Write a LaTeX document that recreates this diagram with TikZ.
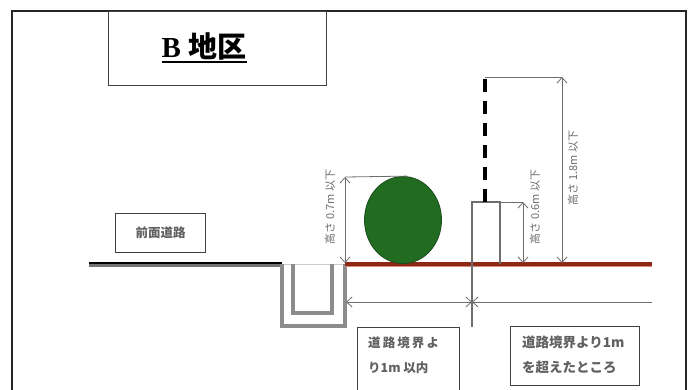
\documentclass[tikz,border=0pt]{standalone}
\usepackage{fontspec}
\setmainfont{Liberation Serif}
\newfontfamily\jp{Noto Sans CJK JP}
\usetikzlibrary{arrows.meta,shapes.geometric}
\definecolor{soil}{RGB}{142,40,22}
\definecolor{soilhalo}{RGB}{214,140,120}
\definecolor{hedge}{RGB}{34,108,34}
\definecolor{dimgray}{RGB}{110,110,110}
\definecolor{ditch}{RGB}{140,140,140}
\tikzset{
  frame/.style={draw=black!85, line width=1.4pt},
  labelbox/.style={draw=black!75, line width=1pt, fill=white},
  dimline/.style={draw=dimgray, line width=0.8pt},
  dimarrow/.style={dimline, {Straight Barb[length=5.5pt,width=10pt]}-{Straight Barb[length=5.5pt,width=10pt]}},
  startarrow/.style={dimline, {Straight Barb[length=5.5pt,width=10pt]}-},
  dimtext/.style={text=dimgray, font=\jp\fontsize{11}{11}\selectfont, inner sep=0pt, rotate=90},
  boxtext/.style={text=black!62, font=\jp\bfseries\fontsize{12.5}{25}\selectfont, align=left, inner sep=0pt},
  ditchwall/.style={draw=ditch, line width=3.2pt, line join=miter},
  postline/.style={draw=dimgray, line width=1.1pt},
}
\begin{document}
\begin{tikzpicture}[x=1pt,y=-1pt]
  \useasboundingbox (0,0) rectangle (692,389);
  \fill[white] (0,0) rectangle (692,389);

  % outer frame (runs past the lower edge)
  \draw[frame] (12,400) -- (12,11) -- (686,11) -- (686,400);

  % title box
  \node[labelbox, line width=1.4pt, minimum width=218pt, minimum height=74pt, anchor=north west] (titlebox) at (108,11) {};
  \node[inner sep=0pt, font=\bfseries\fontsize{29}{29}\selectfont] (ttl) at (204,46) {B {\jp\bfseries 地区}};
  \draw[line width=2.4pt] ([yshift=-5pt]ttl.base west) -- ([yshift=-5pt]ttl.base east);

  % front road
  \coordinate (roadL) at (89,264);
  \coordinate (roadR) at (282,264);
  \draw[draw=black!55, line width=4.5pt] ([yshift=-1pt]roadL) -- ([yshift=-1pt]roadR);
  \draw[draw=black, line width=2.8pt] ([yshift=1pt]roadL) -- ([yshift=1pt]roadR);
  \node[labelbox, minimum width=90pt, minimum height=39pt, anchor=north west] (roadbox) at (115,213) {};
  \node[boxtext, font=\jp\bfseries\fontsize{12.5}{12}\selectfont] (roadtxt) at (roadbox.center) {前面道路};

  % U-shaped side ditch
  \draw[draw=black!20, line width=1pt] (282,264) -- (345,264);
  \draw[ditchwall] (282,264) -- (282,326) -- (345,326) -- (345,264);
  \draw[ditchwall] (293,264) -- (293,313) -- (332,313) -- (332,264);

  % ground line on the lot
  \coordinate (gL) at (345,264);
  \coordinate (gR) at (652,264);
  \draw[draw=soilhalo, line width=5pt] (gL) -- (gR);
  \draw[draw=soil, line width=3.2pt] (gL) -- (gR);

  % hedge
  \node[ellipse, draw=hedge!70!black, fill=hedge, line width=0.8pt, minimum width=77pt, minimum height=87pt, inner sep=0pt] (bush) at (403,220) {};

  % hedge height
  \coordinate (hTop) at (345,177);
  \coordinate (hBot) at (345,263);
  \draw[dimline] (hTop) -- ([xshift=4pt]bush.north);
  \draw[dimarrow] (hTop) -- (hBot);
  \node[dimtext] (hTxt) at (330,207) {高さ 0.7m 以下};

  % fence post and open fence above
  \coordinate (pTL) at (472,202);
  \coordinate (pTR) at (500,202);
  \coordinate (pBR) at (500,264);
  \coordinate (pLow) at (472,327);
  \draw[postline] (pLow) -- (pTL) -- (pTR) -- (pBR);
  \coordinate (fTop) at (485,77);
  \coordinate (fBot) at (485,202);
  \draw[line width=3.6pt, dash pattern=on 13pt off 9pt] (fBot) -- (fTop);

  % post height
  \coordinate (sTop) at (523,202);
  \coordinate (sBot) at (523,263);
  \draw[dimline] (pTR) -- (sTop);
  \draw[dimarrow] (sTop) -- (sBot);
  \node[dimtext] (sTxt) at (535,207) {高さ 0.6m 以下};

  % fence height
  \coordinate (tTop) at (562,77);
  \coordinate (tBot) at (562,263);
  \draw[dimline] (fTop) -- (tTop);
  \draw[dimarrow] (tTop) -- (tBot);
  \node[dimtext] (tTxt) at (573,168) {高さ 1.8m 以下};

  % 1 m zone from the road boundary
  \coordinate (zL) at (346,302);
  \coordinate (zM) at (472,302);
  \coordinate (zR) at (652,302);
  \draw[dimarrow] (zL) -- (zM);
  \draw[startarrow] (zM) -- (zR);

  % zone labels
  \draw[labelbox] (357,400) -- (357,327) -- (459,327) -- (459,400);
  \node[boxtext, anchor=north west] (inTxt) at (368,337) {道\,路\,境\,界\,よ\\り1m 以内};
  \node[labelbox, minimum width=129pt, minimum height=59pt, anchor=north west] (outBox) at (510,326) {};
  \node[boxtext, font=\jp\bfseries\fontsize{13.5}{25}\selectfont, anchor=north west] (outTxt) at (522,336) {道路境界より1m\\を超えたところ};
\end{tikzpicture}
\end{document}
